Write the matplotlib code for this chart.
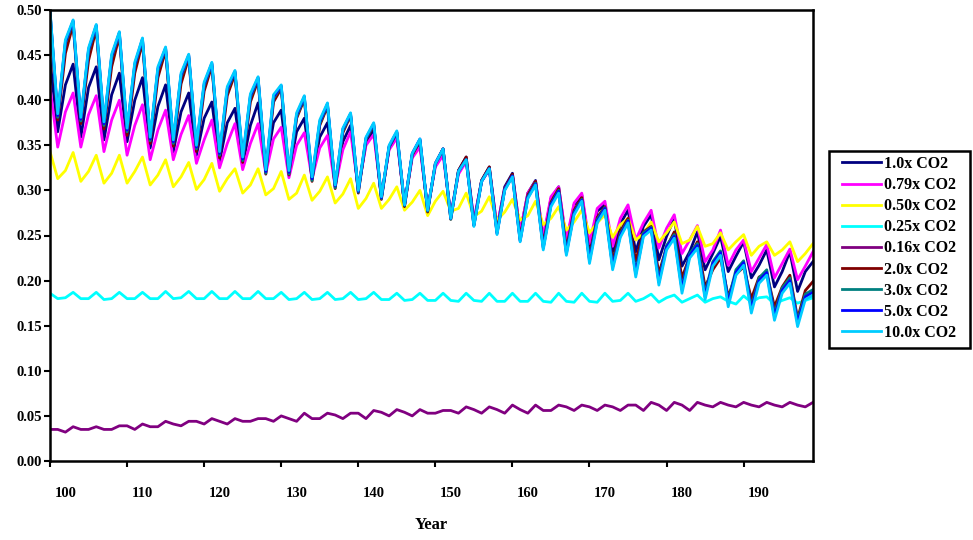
import numpy as np
import matplotlib.pyplot as plt
from matplotlib.patches import Rectangle
from matplotlib.ticker import FixedLocator, NullFormatter, FixedFormatter

plt.rcParams['font.family'] = ['Liberation Serif', 'DejaVu Serif']
plt.rcParams['font.weight'] = 'bold'

years = list(range(98, 198))

co2_1_0 = [0.445, 0.365, 0.417, 0.440, 0.359, 0.414, 0.437, 0.356, 0.406, 0.430,
           0.354, 0.400, 0.425, 0.347, 0.393, 0.417, 0.343, 0.387, 0.408, 0.339,
           0.380, 0.398, 0.332, 0.375, 0.391, 0.328, 0.372, 0.397, 0.326, 0.375,
           0.389, 0.319, 0.365, 0.380, 0.315, 0.359, 0.375, 0.306, 0.354, 0.372,
           0.302, 0.352, 0.367, 0.293, 0.347, 0.361, 0.284, 0.339, 0.352, 0.279,
           0.328, 0.346, 0.271, 0.322, 0.337, 0.265, 0.311, 0.326, 0.258, 0.304,
           0.319, 0.253, 0.297, 0.311, 0.245, 0.291, 0.304, 0.241, 0.284, 0.295,
           0.236, 0.277, 0.284, 0.232, 0.263, 0.278, 0.232, 0.260, 0.273, 0.223,
           0.249, 0.269, 0.216, 0.232, 0.254, 0.212, 0.230, 0.249, 0.210, 0.227,
           0.243, 0.203, 0.217, 0.234, 0.193, 0.210, 0.232, 0.188, 0.210, 0.221]

co2_0_79 = [0.415, 0.348, 0.387, 0.408, 0.348, 0.384, 0.405, 0.343, 0.378, 0.400,
            0.339, 0.372, 0.395, 0.334, 0.367, 0.389, 0.334, 0.362, 0.383, 0.330,
            0.356, 0.378, 0.325, 0.352, 0.374, 0.323, 0.352, 0.374, 0.319, 0.357,
            0.370, 0.314, 0.350, 0.364, 0.313, 0.347, 0.361, 0.304, 0.345, 0.365,
            0.302, 0.350, 0.362, 0.293, 0.345, 0.358, 0.285, 0.336, 0.348, 0.280,
            0.326, 0.339, 0.273, 0.318, 0.332, 0.267, 0.310, 0.323, 0.260, 0.302,
            0.317, 0.254, 0.297, 0.310, 0.249, 0.293, 0.304, 0.245, 0.286, 0.297,
            0.241, 0.280, 0.288, 0.238, 0.269, 0.284, 0.245, 0.264, 0.278, 0.236,
            0.258, 0.273, 0.230, 0.245, 0.261, 0.221, 0.234, 0.256, 0.217, 0.234,
            0.245, 0.210, 0.225, 0.240, 0.203, 0.219, 0.235, 0.201, 0.216, 0.232]

co2_0_50 = [0.343, 0.313, 0.322, 0.342, 0.310, 0.321, 0.339, 0.308, 0.319, 0.339,
            0.308, 0.321, 0.337, 0.306, 0.317, 0.334, 0.304, 0.315, 0.331, 0.301,
            0.312, 0.330, 0.299, 0.313, 0.324, 0.297, 0.306, 0.324, 0.295, 0.302,
            0.321, 0.290, 0.297, 0.317, 0.289, 0.299, 0.315, 0.286, 0.296, 0.313,
            0.280, 0.291, 0.308, 0.280, 0.290, 0.304, 0.278, 0.287, 0.300, 0.272,
            0.288, 0.299, 0.277, 0.280, 0.297, 0.271, 0.277, 0.293, 0.267, 0.276,
            0.290, 0.267, 0.272, 0.288, 0.262, 0.269, 0.282, 0.256, 0.265, 0.278,
            0.253, 0.264, 0.273, 0.248, 0.262, 0.269, 0.245, 0.252, 0.265, 0.243,
            0.253, 0.265, 0.241, 0.245, 0.260, 0.238, 0.241, 0.253, 0.234, 0.243,
            0.251, 0.228, 0.238, 0.243, 0.228, 0.234, 0.243, 0.221, 0.230, 0.241]

co2_0_25 = [0.186, 0.180, 0.181, 0.187, 0.180, 0.180, 0.187, 0.179, 0.180, 0.187,
            0.180, 0.180, 0.187, 0.180, 0.180, 0.188, 0.180, 0.181, 0.188, 0.180,
            0.180, 0.188, 0.180, 0.180, 0.188, 0.180, 0.180, 0.188, 0.180, 0.180,
            0.187, 0.179, 0.180, 0.187, 0.179, 0.180, 0.187, 0.179, 0.180, 0.187,
            0.179, 0.180, 0.187, 0.179, 0.179, 0.186, 0.178, 0.179, 0.186, 0.178,
            0.178, 0.186, 0.178, 0.177, 0.186, 0.178, 0.177, 0.186, 0.177, 0.177,
            0.186, 0.177, 0.177, 0.186, 0.177, 0.176, 0.186, 0.177, 0.176, 0.186,
            0.177, 0.176, 0.186, 0.177, 0.178, 0.186, 0.177, 0.180, 0.185, 0.176,
            0.181, 0.184, 0.176, 0.180, 0.184, 0.176, 0.180, 0.182, 0.177, 0.174,
            0.183, 0.176, 0.181, 0.182, 0.174, 0.178, 0.181, 0.175, 0.178, 0.181]

co2_0_16 = [0.035, 0.035, 0.032, 0.038, 0.035, 0.035, 0.038, 0.035, 0.035, 0.039,
            0.039, 0.035, 0.041, 0.038, 0.038, 0.044, 0.041, 0.039, 0.044, 0.044,
            0.041, 0.047, 0.044, 0.041, 0.047, 0.044, 0.044, 0.047, 0.047, 0.044,
            0.050, 0.047, 0.044, 0.053, 0.047, 0.047, 0.053, 0.051, 0.047, 0.053,
            0.053, 0.047, 0.056, 0.054, 0.050, 0.057, 0.054, 0.050, 0.057, 0.053,
            0.053, 0.056, 0.056, 0.053, 0.060, 0.057, 0.053, 0.060, 0.057, 0.053,
            0.062, 0.057, 0.053, 0.062, 0.056, 0.056, 0.062, 0.060, 0.056, 0.062,
            0.060, 0.056, 0.062, 0.060, 0.056, 0.062, 0.062, 0.056, 0.065, 0.062,
            0.056, 0.065, 0.062, 0.056, 0.065, 0.062, 0.060, 0.065, 0.062, 0.060,
            0.065, 0.062, 0.060, 0.065, 0.062, 0.060, 0.065, 0.062, 0.060, 0.065]

co2_2_0 = [0.492, 0.378, 0.452, 0.484, 0.374, 0.444, 0.479, 0.368, 0.437, 0.471,
           0.361, 0.430, 0.464, 0.352, 0.425, 0.455, 0.349, 0.418, 0.447, 0.343,
           0.410, 0.438, 0.336, 0.405, 0.429, 0.331, 0.398, 0.422, 0.318, 0.398,
           0.413, 0.317, 0.380, 0.401, 0.310, 0.372, 0.393, 0.302, 0.364, 0.383,
           0.297, 0.356, 0.372, 0.290, 0.348, 0.364, 0.282, 0.339, 0.355, 0.276,
           0.330, 0.346, 0.268, 0.322, 0.337, 0.262, 0.311, 0.326, 0.254, 0.302,
           0.318, 0.247, 0.295, 0.310, 0.240, 0.287, 0.302, 0.235, 0.278, 0.292,
           0.228, 0.270, 0.282, 0.222, 0.255, 0.269, 0.222, 0.254, 0.260, 0.208,
           0.237, 0.254, 0.203, 0.227, 0.243, 0.193, 0.212, 0.225, 0.182, 0.207,
           0.215, 0.180, 0.204, 0.208, 0.171, 0.193, 0.206, 0.158, 0.189, 0.199]

co2_3_0 = [0.498, 0.381, 0.463, 0.487, 0.377, 0.454, 0.482, 0.372, 0.447, 0.474,
           0.365, 0.438, 0.467, 0.355, 0.433, 0.457, 0.352, 0.426, 0.449, 0.346,
           0.416, 0.440, 0.339, 0.411, 0.431, 0.333, 0.403, 0.424, 0.319, 0.402,
           0.415, 0.318, 0.382, 0.403, 0.311, 0.374, 0.395, 0.303, 0.366, 0.384,
           0.298, 0.357, 0.373, 0.291, 0.348, 0.364, 0.283, 0.340, 0.356, 0.277,
           0.329, 0.345, 0.268, 0.321, 0.334, 0.261, 0.310, 0.324, 0.253, 0.301,
           0.316, 0.245, 0.293, 0.308, 0.237, 0.285, 0.300, 0.232, 0.276, 0.290,
           0.224, 0.268, 0.281, 0.217, 0.252, 0.267, 0.210, 0.253, 0.259, 0.201,
           0.239, 0.251, 0.193, 0.230, 0.241, 0.186, 0.221, 0.233, 0.178, 0.212,
           0.222, 0.171, 0.203, 0.212, 0.163, 0.192, 0.203, 0.156, 0.185, 0.190]

co2_5_0 = [0.499, 0.383, 0.465, 0.488, 0.379, 0.456, 0.483, 0.374, 0.449, 0.475,
           0.367, 0.440, 0.468, 0.357, 0.435, 0.458, 0.354, 0.428, 0.450, 0.348,
           0.418, 0.441, 0.341, 0.413, 0.432, 0.335, 0.405, 0.425, 0.321, 0.404,
           0.416, 0.320, 0.384, 0.404, 0.313, 0.376, 0.396, 0.305, 0.368, 0.385,
           0.299, 0.358, 0.374, 0.292, 0.349, 0.365, 0.284, 0.341, 0.357, 0.278,
           0.330, 0.346, 0.269, 0.321, 0.334, 0.261, 0.310, 0.324, 0.252, 0.301,
           0.316, 0.244, 0.292, 0.307, 0.236, 0.284, 0.299, 0.230, 0.275, 0.289,
           0.222, 0.266, 0.280, 0.215, 0.250, 0.266, 0.207, 0.251, 0.258, 0.198,
           0.237, 0.249, 0.190, 0.228, 0.239, 0.182, 0.219, 0.231, 0.175, 0.209,
           0.220, 0.168, 0.200, 0.209, 0.160, 0.189, 0.200, 0.153, 0.182, 0.187]

co2_10_0 = [0.500, 0.385, 0.467, 0.489, 0.381, 0.458, 0.484, 0.376, 0.451, 0.476,
            0.369, 0.442, 0.469, 0.359, 0.437, 0.459, 0.356, 0.430, 0.451, 0.350,
            0.420, 0.442, 0.343, 0.415, 0.433, 0.337, 0.407, 0.426, 0.323, 0.406,
            0.417, 0.322, 0.386, 0.405, 0.315, 0.378, 0.397, 0.306, 0.369, 0.386,
            0.300, 0.359, 0.375, 0.293, 0.350, 0.366, 0.284, 0.341, 0.357, 0.278,
            0.330, 0.346, 0.269, 0.321, 0.334, 0.260, 0.310, 0.324, 0.251, 0.300,
            0.315, 0.243, 0.291, 0.306, 0.234, 0.282, 0.297, 0.228, 0.273, 0.288,
            0.219, 0.264, 0.278, 0.212, 0.248, 0.264, 0.204, 0.249, 0.256, 0.195,
            0.234, 0.247, 0.186, 0.225, 0.236, 0.179, 0.216, 0.228, 0.171, 0.206,
            0.217, 0.164, 0.197, 0.206, 0.156, 0.186, 0.197, 0.149, 0.179, 0.184]

labels = ["1.0x CO2", "0.79x CO2", "0.50x CO2", "0.25x CO2", "0.16x CO2",
          "2.0x CO2", "3.0x CO2", "5.0x CO2", "10.0x CO2"]
series = [co2_1_0, co2_0_79, co2_0_50, co2_0_25, co2_0_16,
          co2_2_0, co2_3_0, co2_5_0, co2_10_0]
colors = ["#000080", "#FF00FF", "#FFFF00", "#00FFFF", "#800080",
          "#800000", "#008080", "#0000FF", "#00CCFF"]

fig = plt.figure(figsize=(9.73, 5.4), dpi=100)
ax = fig.add_axes([50/973, 79/540, 763/973, 451/540])

for vals, lab, c in zip(series, labels, colors):
    ax.plot(years, vals, color=c, linewidth=2.0, label=lab)

ax.set_xlim(98, 197)
ax.set_ylim(0, 0.5)

# y axis
ax.set_yticks(np.arange(0, 0.501, 0.05))
ax.set_yticklabels([f"{v:.2f}" for v in np.arange(0, 0.501, 0.05)])
ax.tick_params(axis='y', direction='out', length=4, width=1.5, labelsize=10.5, pad=2)

# x axis: tick marks every 10 categories, labels offset like the original
ax.xaxis.set_major_locator(FixedLocator(list(range(98, 190, 10))))
ax.xaxis.set_major_formatter(NullFormatter())
ax.xaxis.set_minor_locator(FixedLocator(list(range(100, 191, 10))))
ax.xaxis.set_minor_formatter(FixedFormatter([str(y) for y in range(100, 191, 10)]))
ax.tick_params(axis='x', which='major', direction='out', length=4, width=1.5)
ax.tick_params(axis='x', which='minor', length=0, labelsize=10.5, pad=19)

for sp in ax.spines.values():
    sp.set_linewidth(1.8)
    sp.set_color('black')

ax.set_xlabel("Year", fontsize=12, fontweight='bold', labelpad=12)

# legend entries without frame, frame drawn separately (wider side padding)
leg = fig.legend(loc='upper left', bbox_to_anchor=(842/973, 384/540),
                 frameon=False, prop={'size': 11.5, 'weight': 'bold'},
                 handlelength=2.45, handletextpad=0.15, labelspacing=0.32,
                 borderpad=0, borderaxespad=0)
fig.patches.append(Rectangle((829/973, 192/540), 141/973, 197/540,
                             transform=fig.transFigure, fill=False,
                             edgecolor='black', linewidth=1.8))

fig.savefig("out.png", dpi=100)
